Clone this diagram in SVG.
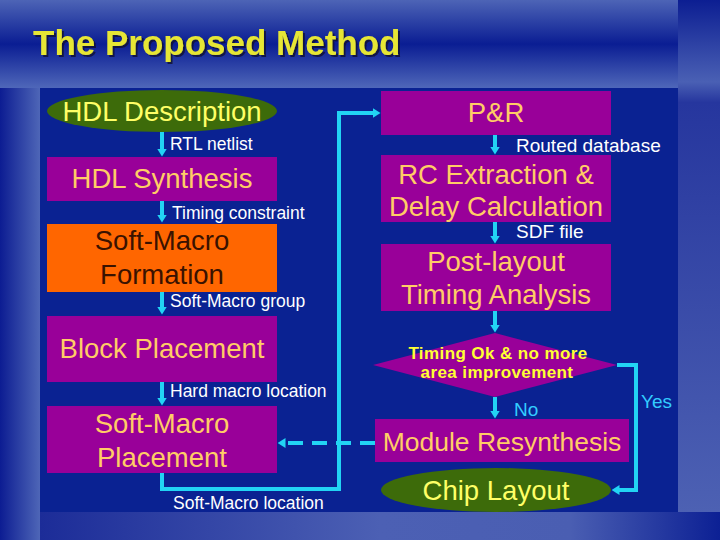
<svg xmlns="http://www.w3.org/2000/svg" width="720" height="540" viewBox="0 0 720 540">
<defs>
<linearGradient id="gBand" x1="0" y1="0" x2="0" y2="1">
<stop offset="0" stop-color="#4d64b6"/>
<stop offset="0.5" stop-color="#0a1d93"/>
<stop offset="1" stop-color="#4f67b9"/>
</linearGradient>
<linearGradient id="gLeft" x1="0" y1="0" x2="1" y2="0">
<stop offset="0" stop-color="#0c1c92"/>
<stop offset="1" stop-color="#4e66b7"/>
</linearGradient>
<linearGradient id="gRight" x1="0" y1="0" x2="0" y2="1">
<stop offset="0" stop-color="#0c1e92"/>
<stop offset="0.16" stop-color="#4a60b4"/>
<stop offset="0.2" stop-color="#26369e"/>
<stop offset="1" stop-color="#4d61b3"/>
</linearGradient>
<linearGradient id="gBottom" x1="0" y1="0" x2="1" y2="0">
<stop offset="0" stop-color="#1c2c98"/>
<stop offset="0.5" stop-color="#4c60b4"/>
<stop offset="0.78" stop-color="#4a5eb2"/>
<stop offset="1" stop-color="#0c2094"/>
</linearGradient>
<filter id="shadow" x="-5%" y="-20%" width="110%" height="150%">
<feDropShadow dx="2" dy="2" stdDeviation="0.6" flood-color="#101030" flood-opacity="0.8"/>
</filter>
<marker id="ah" viewBox="0 0 8 10" refX="0.5" refY="5" markerWidth="8" markerHeight="10" markerUnits="userSpaceOnUse" orient="auto">
<path d="M0,0 L8,5 L0,10 z" fill="#22d4f4"/>
</marker>
</defs>
<style>
.big{font-family:"Liberation Sans",Arial,sans-serif;font-size:27.5px;text-anchor:middle}
.yl{fill:#ffff66}
.pk{fill:#ffcc66}
.dk{fill:#3a1200}
.lbl{font-family:"Liberation Sans",Arial,sans-serif;font-size:17.5px;fill:#ffffff}
.lblr{font-family:"Liberation Sans",Arial,sans-serif;font-size:19px;fill:#ffffff}
.cy{font-family:"Liberation Sans",Arial,sans-serif;font-size:19px;fill:#33ccff}
.dia{font-family:"Liberation Sans",Arial,sans-serif;font-size:17px;font-weight:bold;fill:#ffff33;text-anchor:middle;letter-spacing:0.4px}
.box{fill:#990099}
.ell{fill:#3d6b0a}
.conn{fill:none;stroke:#22d4f4;stroke-width:4}
</style>
<rect x="0" y="0" width="720" height="540" fill="#0a2292"/>
<rect x="0" y="0" width="678" height="88" fill="url(#gBand)"/>
<rect x="0" y="88" width="40" height="452" fill="url(#gLeft)"/>
<rect x="678" y="0" width="42" height="512" fill="url(#gRight)"/>
<rect x="40" y="512" width="680" height="28" fill="url(#gBottom)"/>
<rect x="40" y="88" width="638" height="424" fill="#0a2292"/>
<text x="33" y="55" font-family="'Liberation Sans',Arial,sans-serif" font-size="35" font-weight="bold" fill="#e6e635" filter="url(#shadow)">The Proposed Method</text>

<g id="connectors">
<path class="conn" d="M162,132 V149" marker-end="url(#ah)"/>
<path class="conn" d="M162,201 V215" marker-end="url(#ah)"/>
<path class="conn" d="M162,292 V307" marker-end="url(#ah)"/>
<path class="conn" d="M162,382 V398" marker-end="url(#ah)"/>
<path class="conn" d="M162,473 V489 H339 V113 H373" marker-end="url(#ah)"/>
<path class="conn" d="M495,135 V147" marker-end="url(#ah)"/>
<path class="conn" d="M495,222 V236" marker-end="url(#ah)"/>
<path class="conn" d="M495,311 V325" marker-end="url(#ah)"/>
<path class="conn" d="M495,397 V411" marker-end="url(#ah)"/>
<path class="conn" d="M617,365 H636 V490 H619" marker-end="url(#ah)"/>
<path class="conn" d="M375,443 H285" stroke-dasharray="15 9" marker-end="url(#ah)"/>
<text class="lbl" x="170" y="150">RTL netlist</text>
<text class="lbl" x="172" y="219">Timing constraint</text>
<text class="lbl" x="170" y="307">Soft-Macro group</text>
<text class="lbl" x="170" y="397">Hard macro location</text>
<text class="lbl" x="173" y="509">Soft-Macro location</text>
<text class="lblr" x="516" y="152">Routed database</text>
<text class="lblr" x="516" y="238">SDF file</text>
<text class="cy" x="514" y="416">No</text>
<text class="cy" x="641" y="408">Yes</text>
</g>

<g id="hdl-description">
<ellipse class="ell" cx="162" cy="111" rx="115" ry="21"/>
<text class="big yl" x="162" y="121">HDL Description</text>
</g>
<g id="hdl-synthesis">
<rect class="box" x="47" y="157" width="230" height="44"/>
<text class="big pk" x="162" y="188">HDL Synthesis</text>
</g>
<g id="soft-macro-formation">
<rect x="47" y="224" width="230" height="68" fill="#ff6600"/>
<text class="big dk" x="162" y="250">Soft-Macro</text>
<text class="big dk" x="162" y="284">Formation</text>
</g>
<g id="block-placement">
<rect class="box" x="47" y="316" width="230" height="66"/>
<text class="big pk" x="162" y="358">Block Placement</text>
</g>
<g id="soft-macro-placement">
<rect class="box" x="47" y="406" width="230" height="67"/>
<text class="big pk" x="162" y="433">Soft-Macro</text>
<text class="big pk" x="162" y="467">Placement</text>
</g>
<g id="p-and-r">
<rect class="box" x="381" y="91" width="230" height="44"/>
<text class="big pk" x="496" y="122">P&amp;R</text>
</g>
<g id="rc-extraction">
<rect class="box" x="381" y="155" width="230" height="67"/>
<text class="big pk" x="496" y="184">RC Extraction &amp;</text>
<text class="big pk" x="496" y="216">Delay Calculation</text>
</g>
<g id="post-layout">
<rect class="box" x="381" y="244" width="230" height="67"/>
<text class="big pk" x="496" y="271">Post-layout</text>
<text class="big pk" x="496" y="304">Timing Analysis</text>
</g>
<g id="decision">
<polygon class="box" points="495,333 617,365 495,397 373,365"/>
<text class="dia" x="498" y="359">Timing Ok &amp; no more</text>
<text class="dia" x="497" y="378">area improvement</text>
</g>
<g id="module-resynthesis">
<rect class="box" x="375" y="419" width="254" height="43"/>
<text class="big pk" x="502" y="451" style="font-size:26.5px">Module Resynthesis</text>
</g>
<g id="chip-layout">
<ellipse class="ell" cx="496" cy="490" rx="115" ry="22"/>
<text class="big yl" x="496" y="500">Chip Layout</text>
</g>
</svg>
